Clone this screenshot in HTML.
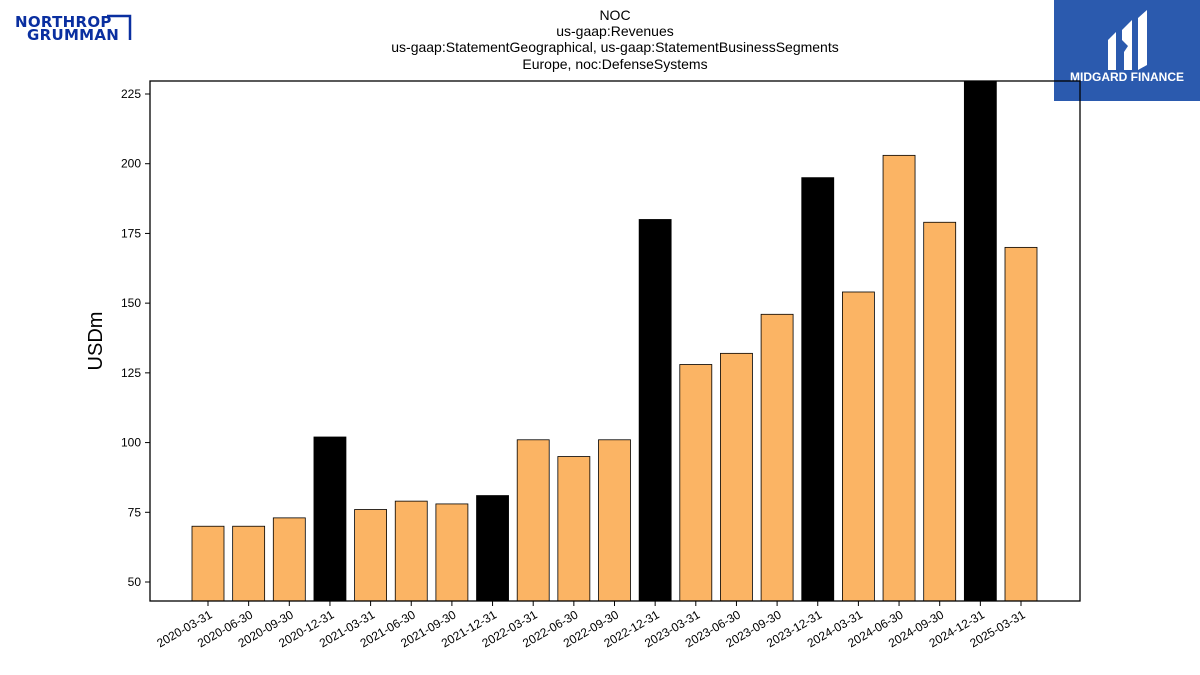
<!DOCTYPE html>
<html><head><meta charset="utf-8">
<style>
body{margin:0;background:#fff;width:1200px;height:675px;overflow:hidden;font-family:"Liberation Sans","DejaVu Sans",sans-serif;}
svg{position:absolute;left:0;top:0}
</style></head>
<body>
<svg id="chart" width="1200" height="675">
  <g>
    <text x="15" y="27" font-size="15" font-weight="bold" fill="#0a2fa0" font-family="DejaVu Sans, sans-serif" letter-spacing="0.3">NORTHROP</text>
    <text x="27" y="40" font-size="15" font-weight="bold" fill="#0a2fa0" font-family="DejaVu Sans, sans-serif" letter-spacing="0.3">GRUMMAN</text>
    <polyline points="107,16 130,16 130,40" fill="none" stroke="#0a2fa0" stroke-width="2.5"/>
  </g>
  <g>
    <rect x="1054" y="0" width="146" height="101" fill="#2b5aae"/>
    <path d="M1108,40 L1116,32 L1116,70 L1108,70 Z M1122,30 L1132,20 L1132,70 L1124,70 L1124,52 L1128,46 L1122,40 Z M1138,18 L1147,10 L1147,65 L1138,70 Z" fill="#fff"/>
    <text x="1127" y="81" font-size="12" font-weight="bold" fill="#fff" text-anchor="middle">MIDGARD FINANCE</text>
  </g>
  <g font-size="14" text-anchor="middle" fill="#000">
    <text x="615" y="20">NOC</text>
    <text x="615" y="36">us-gaap:Revenues</text>
    <text x="615" y="52">us-gaap:StatementGeographical, us-gaap:StatementBusinessSegments</text>
    <text x="615" y="69">Europe, noc:DefenseSystems</text>
  </g>
  <text x="102" y="341" font-size="20" text-anchor="middle" transform="rotate(-90 102 341)">USDm</text>
  <g id="bars"></g>
  <g id="yticks"></g>
  <g id="xticks"></g>
  <rect x="150" y="81" width="930" height="520" fill="none" stroke="#000" stroke-width="1.3"/>
</svg>
<script>
const categories=["2020-03-31","2020-06-30","2020-09-30","2020-12-31","2021-03-31","2021-06-30","2021-09-30","2021-12-31","2022-03-31","2022-06-30","2022-09-30","2022-12-31","2023-03-31","2023-06-30","2023-09-30","2023-12-31","2024-03-31","2024-06-30","2024-09-30","2024-12-31","2025-03-31"];
const values=[70,70,73,102,76,79,78,81,101,95,101,180,128,132,146,195,154,203,179,232,170];
const yTickValues=[50,75,100,125,150,175,200,225];
const ns="http://www.w3.org/2000/svg";
const plotL=150,plotR=1080,plotT=81,plotB=601;
const yMin=43.19,yMax=229.66;
function yScale(v){return plotB-(v-yMin)/(yMax-yMin)*(plotB-plotT);}
const step=40.65,x0=208;
function xScale(i){return x0+i*step;}
const bw=32;
const bars=document.getElementById('bars');
values.forEach((v,i)=>{
  const r=document.createElementNS(ns,'rect');
  
  
  const top=Math.max(yScale(v),plotT);
  r.setAttribute('x',xScale(i)-bw/2);r.setAttribute('y',top);
  r.setAttribute('width',bw);r.setAttribute('height',plotB-top);
  const black=categories[i].endsWith('12-31');
  r.setAttribute('fill',black?'#000':'#fbb464');
  r.setAttribute('stroke','#000');r.setAttribute('stroke-width','0.8');
  bars.appendChild(r);
});
const yt=document.getElementById('yticks');
yTickValues.forEach(v=>{
  const y=yScale(v);
  const l=document.createElementNS(ns,'line');
  
  
  l.setAttribute('x1',plotL-5);l.setAttribute('x2',plotL);l.setAttribute('y1',y);l.setAttribute('y2',y);l.setAttribute('stroke','#000');
  yt.appendChild(l);
  const t=document.createElementNS(ns,'text');
  
  
  t.setAttribute('x',plotL-9);t.setAttribute('y',y+4);t.setAttribute('font-size','12');t.setAttribute('text-anchor','end');
  t.textContent=v;yt.appendChild(t);
});
const xt=document.getElementById('xticks');
categories.forEach((c,i)=>{
  const x=xScale(i);
  const l=document.createElementNS(ns,'line');
  
  
  l.setAttribute('x1',x);l.setAttribute('x2',x);l.setAttribute('y1',plotB);l.setAttribute('y2',plotB+5);l.setAttribute('stroke','#000');
  xt.appendChild(l);
  const t=document.createElementNS(ns,'text');
  
  
  t.setAttribute('font-size','12');t.setAttribute('text-anchor','end');
  t.setAttribute('transform','translate('+(x+5)+','+(plotB+16)+') rotate(-30)');
  t.textContent=c;xt.appendChild(t);
});
</script>
</body></html>
